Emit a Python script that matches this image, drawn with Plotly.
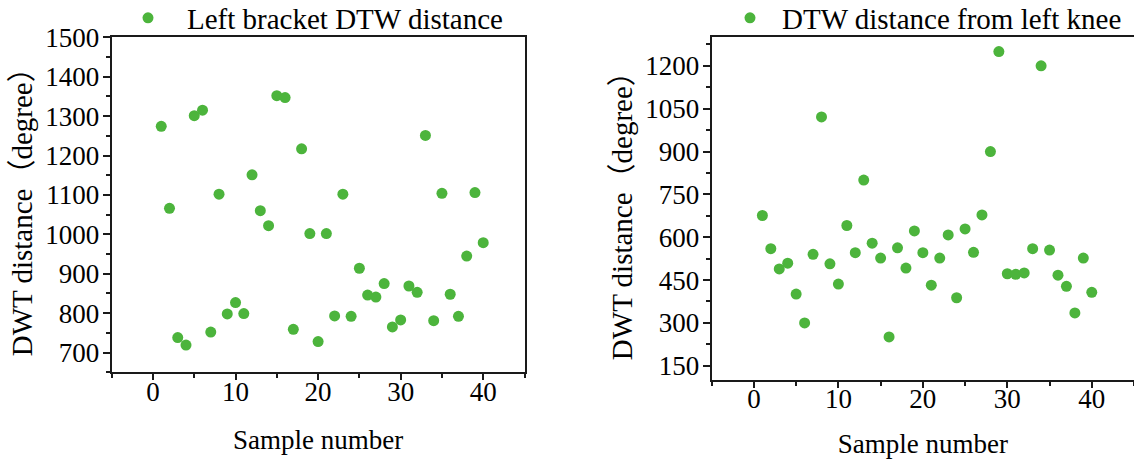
import plotly.graph_objects as go

samples = list(range(1, 41))

left_bracket = [1274, 1066, 738, 719, 1301, 1315, 752, 1102, 798, 827,
                799, 1151, 1060, 1022, 1352, 1347, 759, 1217, 1002, 728,
                1002, 793, 1102, 792, 914, 846, 841, 875, 765, 783,
                869, 853, 1251, 781, 1104, 848, 792, 945, 1106, 979]

left_knee = [676, 560, 489, 509, 401, 300, 540, 1021, 507, 436,
             641, 546, 800, 579, 527, 251, 563, 492, 622, 546,
             432, 527, 608, 388, 629, 547, 678, 900, 1250, 472,
             470, 475, 560, 1200, 555, 467, 428, 335, 527, 407]

name_left = "Left bracket DTW distance"
name_right = "DTW distance from left knee"
x_title = "Sample number"
y_title = "DWT distance（degree）"

GREEN = "#4cb43c"
FONT = "Liberation Serif, Times New Roman, Noto Sans CJK SC, serif"
FS = 27
AX = "#1a1a1a"

fig = go.Figure()
fig.add_trace(go.Scatter(x=samples, y=left_bracket, mode="markers", name=name_left,
                         marker=dict(color=GREEN, size=11), xaxis="x", yaxis="y",
                         legend="legend"))
fig.add_trace(go.Scatter(x=samples, y=left_knee, mode="markers", name=name_right,
                         marker=dict(color=GREEN, size=11), xaxis="x2", yaxis="y2",
                         legend="legend2"))

W, H = 1134, 459

def px(xp):
    return xp / W

def py(yp):
    return 1 - yp / H

def xaxis_common(domain, anchor):
    return dict(domain=domain, anchor=anchor, range=[-5, 45], tick0=0, dtick=10,
                showgrid=False, zeroline=False, showline=True, linecolor=AX, linewidth=2,
                ticks="outside", ticklen=6, tickwidth=2, tickcolor=AX,
                minor=dict(ticks="outside", ticklen=4, tickwidth=1.5, tickcolor=AX, dtick=5, showgrid=False),
                tickfont=dict(family=FONT, size=FS, color="black"),
                ticklabelposition="outside", ticklabelstandoff=-12,
                title=dict(text=x_title, font=dict(family=FONT, size=FS, color="black"), standoff=24))

def yaxis_common(domain, anchor, rng, dtick, minor):
    return dict(domain=domain, anchor=anchor, range=rng, tick0=0, dtick=dtick,
                showgrid=False, zeroline=False, showline=True, linecolor=AX, linewidth=2,
                ticks="outside", ticklen=7, tickwidth=2, tickcolor=AX,
                minor=dict(ticks="outside", ticklen=4, tickwidth=1.5, tickcolor=AX, dtick=minor, showgrid=False),
                tickfont=dict(family=FONT, size=FS, color="black"), ticklabelstandoff=-2,
                title=dict(text=y_title, font=dict(family=FONT, size=29, color="black"), standoff=4))

x1 = xaxis_common([px(111.7), px(524.5)], "y")
x1["mirror"] = True
y1 = yaxis_common([py(372.3), py(37.3)], "x", [650, 1500], 100, 50)
y1["mirror"] = True

x2 = xaxis_common([px(711.7), 1.0], "y2")
x2["mirror"] = True
y2 = yaxis_common([py(380), py(37.3)], "x2", [100, 1300], 150, 75)

fig.update_layout(
    width=W, height=H,
    margin=dict(l=0, r=0, t=0, b=0, autoexpand=False),
    paper_bgcolor="white", plot_bgcolor="white",
    xaxis=x1, yaxis=y1, xaxis2=x2, yaxis2=y2,
    legend=dict(x=px(109), y=py(18), xanchor="left", yanchor="middle", itemwidth=68,
                font=dict(family=FONT, size=29, color="black"), bgcolor="rgba(0,0,0,0)"),
    legend2=dict(x=px(718), y=py(18), xanchor="left", yanchor="middle", itemwidth=54,
                 font=dict(family=FONT, size=29, color="black"), bgcolor="rgba(0,0,0,0)"),
    showlegend=True,
)

fig.write_html("out.html", config={"displayModeBar": False},
               post_script="document.body.style.margin='0';")
